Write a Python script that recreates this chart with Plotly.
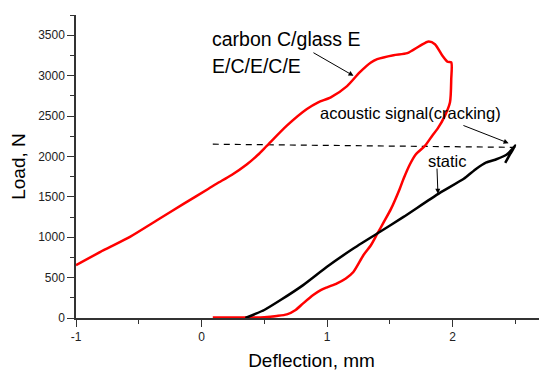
import plotly.graph_objects as go

# Red curve: carbon C/glass E, E/C/E/C/E
red_x = [0.09, 0.30, 0.50, 0.60, 0.68, 0.75, 0.81, 0.89, 0.95, 1.00, 1.08, 1.15, 1.21, 1.29, 1.35,
         1.40, 1.45, 1.51, 1.58, 1.61, 1.66, 1.71, 1.78, 1.84, 1.88, 1.94, 1.98, 1.99, 1.99,
         1.96, 1.92, 1.86, 1.81, 1.74, 1.64, 1.53, 1.40, 1.35, 1.26, 1.16, 1.03, 0.93, 0.84, 0.68,
         0.52, 0.45, 0.36, 0.24, 0.12, 0.056, -0.14, -0.355, -0.57, -0.78, -1.00]
red_y = [5, 5, 10, 25, 45, 100, 181, 284, 345, 380, 430, 490, 570, 777, 900,
         1040, 1180, 1350, 1600, 1723, 1900, 2030, 2130, 2260, 2340, 2505, 2670, 2957, 3163,
         3171, 3245, 3389, 3422, 3368, 3278, 3253, 3204, 3163, 3040, 2870, 2731, 2670, 2587, 2381,
         2130, 2020, 1900, 1770, 1662, 1600, 1415, 1209, 1004, 839, 654]

# Black curve: static
blk_x = [0.35, 0.50, 0.63, 0.81, 1.00, 1.21, 1.40, 1.61, 1.88, 2.09, 2.19, 2.27, 2.35, 2.43, 2.49, 2.50, 2.46, 2.42]
blk_y = [0, 99, 222, 407, 634, 860, 1045, 1251, 1530, 1723, 1847, 1925, 1965, 2020, 2114, 2134, 2030, 1920]

# Dashed level: acoustic signal (cracking)
dash_x = [0.09, 2.50]
dash_y = [2151, 2112]

FONT = "Liberation Sans, Arial, sans-serif"

fig = go.Figure()
fig.add_trace(go.Scatter(x=dash_x, y=dash_y, mode="lines",
                         line=dict(color="black", width=1.2, dash="6px,5px"), showlegend=False))
fig.add_trace(go.Scatter(x=red_x, y=red_y, mode="lines",
                         line=dict(color="#ff0000", width=2.5, shape="spline", smoothing=0.7), showlegend=False))
fig.add_trace(go.Scatter(x=blk_x, y=blk_y, mode="lines",
                         line=dict(color="black", width=2.5, shape="spline", smoothing=0.4), showlegend=False))

ann = [
    dict(x=0.07, y=3455, text="carbon C/glass E", showarrow=False, xanchor="left", yanchor="middle",
         font=dict(size=19.5, color="black", family=FONT)),
    dict(x=0.07, y=3120, text="E/C/E/C/E", showarrow=False, xanchor="left", yanchor="middle",
         font=dict(size=19.5, color="black", family=FONT)),
    dict(x=0.925, y=2540, text="acoustic signal(cracking)", showarrow=False, xanchor="left", yanchor="middle",
         font=dict(size=16.5, color="black", family=FONT)),
    dict(x=1.79, y=1945, text="static", showarrow=False, xanchor="left", yanchor="middle",
         font=dict(size=16.5, color="black", family=FONT)),
    dict(x=1.211, y=2998, ax=0.88, ay=3294, axref="x", ayref="y", xref="x", yref="y", text="",
         showarrow=True, arrowhead=2, arrowsize=1, arrowwidth=1, arrowcolor="black"),
    dict(x=2.447, y=2164, ax=2.075, ay=2390, axref="x", ayref="y", xref="x", yref="y", text="",
         showarrow=True, arrowhead=2, arrowsize=1, arrowwidth=1, arrowcolor="black"),
    dict(x=1.884, y=1538, ax=1.876, ay=1868, axref="x", ayref="y", xref="x", yref="y", text="",
         showarrow=True, arrowhead=2, arrowsize=1, arrowwidth=1, arrowcolor="black"),
]

axcol = "#333333"
fig.update_layout(
    width=539, height=363,
    margin=dict(l=68, r=0, t=7, b=49),
    paper_bgcolor="white", plot_bgcolor="white",
    font=dict(family=FONT, color="#222222"),
    annotations=ann,
    xaxis=dict(range=[-1, 2.753], tickmode="array", tickvals=[-1, 0, 1, 2], ticktext=["-1", "0", "1", "2"],
               ticks="outside", ticklen=7, tickwidth=1.3, tickcolor=axcol,
               minor=dict(tickvals=[-0.5, 0.5, 1.5, 2.5], ticks="outside", ticklen=4, tickwidth=1.3, tickcolor=axcol),
               showline=True, linecolor=axcol, linewidth=1.5, showgrid=False, zeroline=False,
               tickfont=dict(size=12, family=FONT, color="#222222"),
               title=dict(text="Deflection, mm", font=dict(size=19, family=FONT, color="black"), standoff=14)),
    yaxis=dict(range=[0, 3750], tickmode="array", tickvals=[0, 500, 1000, 1500, 2000, 2500, 3000, 3500],
               ticks="outside", ticklen=7, tickwidth=1.3, tickcolor=axcol,
               minor=dict(tickvals=[250, 750, 1250, 1750, 2250, 2750, 3250, 3750], ticks="outside", ticklen=4,
                          tickwidth=1.3, tickcolor=axcol),
               showline=True, linecolor=axcol, linewidth=1.5, showgrid=False, zeroline=False,
               tickfont=dict(size=12, family=FONT, color="#222222"),
               title=dict(text="Load, N", font=dict(size=19, family=FONT, color="black"), standoff=8)),
)

fig.write_html("out.html")
